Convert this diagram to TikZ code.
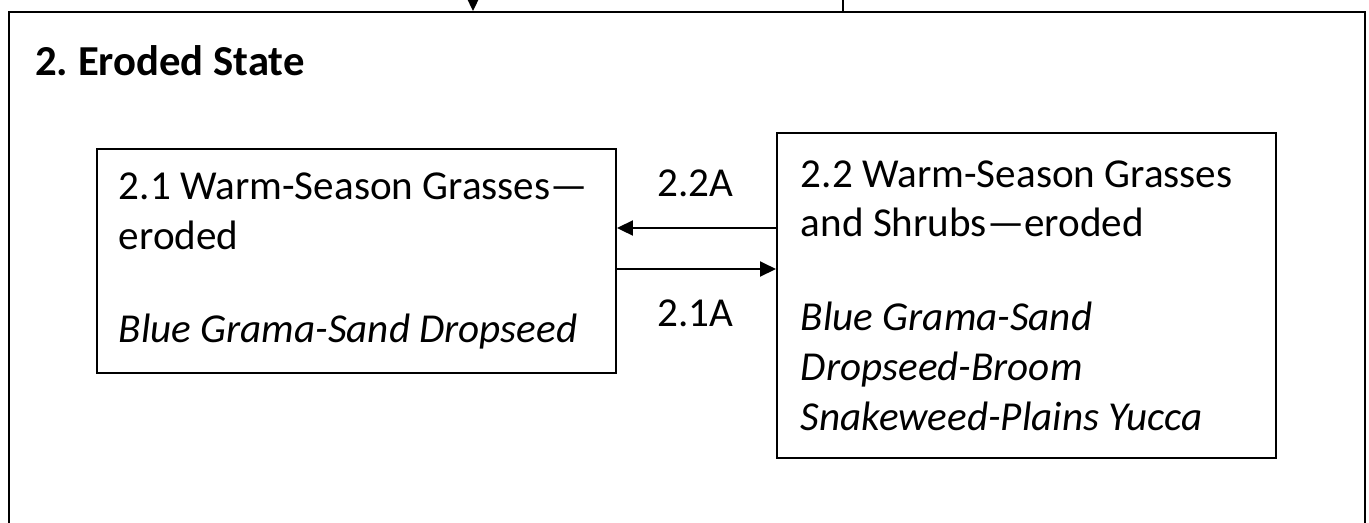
\documentclass[tikz,border=0pt]{standalone}
\usepackage{fontspec}
\setmainfont{Carlito}
\usetikzlibrary{arrows.meta,calc}
\frenchspacing

\newlength{\unitpx}
\setlength{\unitpx}{0.02cm}
\tikzset{
  statebox/.style={draw, line width=1.1pt, anchor=north west, align=flush left,
    inner xsep=22\unitpx, inner ysep=0pt,
    font=\fontsize{23.4}{28.3}\selectfont},
  trans/.style={line width=1.1pt, -{Triangle[length=0.32cm,width=0.3cm]}},
  translabel/.style={anchor=base west, inner sep=0pt, font=\fontsize{23.4}{28.3}\selectfont}
}

\begin{document}
\begin{tikzpicture}[x=0.02cm,y=-0.02cm]
          \useasboundingbox (0,0) rectangle (1369,522);

          % outer state box, runs past the bottom
          \node[draw, line width=1.1pt, anchor=north west, minimum width=1356\unitpx,
            minimum height=540\unitpx] (st2) at (8,11) {};
          \node[anchor=base west, inner sep=0pt, font=\fontsize{24.3}{28}\selectfont\bfseries] (st2title) at (35,75) {2. Eroded State};

          % incoming lines from above
          \coordinate (inA) at (473,-20);
          \coordinate (inB) at (843,-20);
          \draw[trans] (inA) -- (inA |- st2.north);
          \draw[line width=1.1pt] (inB) -- (inB |- st2.north);

          % community phases
          \node[statebox, minimum width=519\unitpx, minimum height=224\unitpx,
            text width=475\unitpx] (p21) at (96,148)
            {2.1 Warm-Season Grasses—\\ eroded\\[25pt]
             \textit{Blue Grama-Sand Dropseed}};
          \node[statebox, inner xsep=24\unitpx, minimum width=499\unitpx, minimum height=325\unitpx,
            text width=451\unitpx] (p22) at (776,132)
            {2.2 Warm-Season Grasses\\ and Shrubs—eroded\\[25pt]
             \textit{Blue Grama-Sand}\\ \textit{Dropseed-Broom}\\ \textit{Snakeweed-Plains Yucca}};

          % transitions between phases
          \draw[trans] (p22.west |- 0,228) -- (p21.east |- 0,228);
          \draw[trans] (p21.east |- 0,269) -- (p22.west |- 0,269);
          \node[translabel] (t22A) at (657,196) {2.2A};
          \node[translabel] (t21A) at (657,326) {2.1A};
\end{tikzpicture}
\end{document}
